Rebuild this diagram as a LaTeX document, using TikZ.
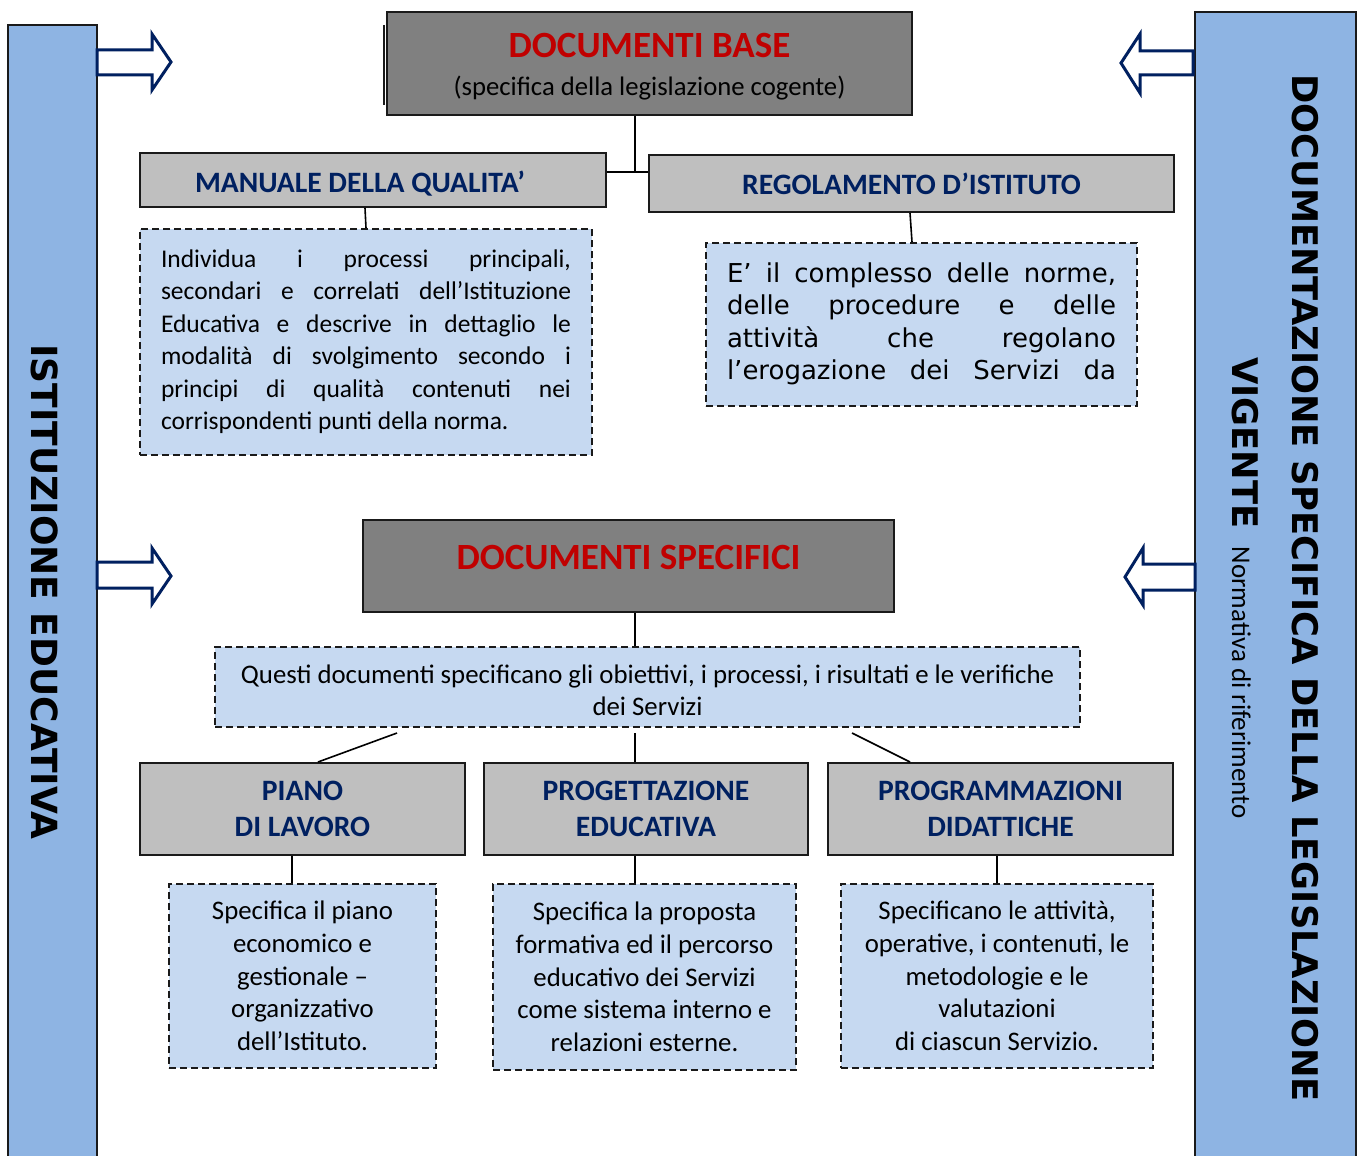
\documentclass[tikz,border=0pt]{standalone}
\usepackage{fontspec}
\setmainfont{Carlito}
\newfontfamily\verd{DejaVu Sans}
\definecolor{barblue}{HTML}{8EB4E3}
\definecolor{darkfill}{HTML}{808080}
\definecolor{lightfill}{HTML}{BFBFBF}
\definecolor{paleblue}{HTML}{C6D9F1}
\definecolor{titlered}{HTML}{C00000}
\definecolor{navy}{HTML}{002060}
\definecolor{edge}{HTML}{1A1A1A}
\tikzset{
  darkbox/.style={draw=edge, line width=2pt, fill=darkfill, inner sep=0pt},
  gbox/.style={draw=edge, line width=2pt, fill=lightfill, inner sep=0pt, text=navy, align=center,
    font=\bfseries\fontsize{29.6}{36}\selectfont},
  dbox/.style={draw=edge, line width=2pt, dash pattern=on 7pt off 4pt, fill=paleblue, inner sep=0pt},
  conn/.style={draw=black, line width=1.6pt},
  blockarrow/.style={draw=navy, line width=3pt, fill=white, line join=miter},
}
\begin{document}
\begin{tikzpicture}[x=1pt,y=-1pt]
\useasboundingbox[fill=white] (0,0) rectangle (1360,1156);

% side bars
\fill[barblue] (8,25) rectangle (97,1156);
\draw[edge, line width=2pt] (8,1156) -- (8,25) -- (97,25) -- (97,1156);
\fill[barblue] (1195,12) rectangle (1356,1156);
\draw[edge, line width=2pt] (1195,1156) -- (1195,12) -- (1356,12) -- (1356,1156);

\node[rotate=-90, font=\verd\bfseries\fontsize{36}{40}\selectfont] (left) at (45,592) {ISTITUZIONE EDUCATIVA};
\node[rotate=-90, align=center, font=\verd\bfseries\fontsize{35.3}{60}\selectfont] (right) at (1275,588)
  {DOCUMENTAZIONE SPECIFICA DELLA LEGISLAZIONE\\VIGENTE {\normalfont\rmfamily\fontsize{27}{27}\selectfont\ Normativa di riferimento}};

% block arrows
\draw[blockarrow] (97,50) -- (152,50) -- (152,34) -- (171,62) -- (152,90) -- (152,75) -- (97,75) -- cycle;
\draw[blockarrow] (97,562) -- (152,562) -- (152,548) -- (171,576) -- (152,604) -- (152,588) -- (97,588) -- cycle;
\draw[blockarrow] (1193,51) -- (1140,51) -- (1140,34) -- (1121,63) -- (1140,93) -- (1140,75) -- (1193,75) -- cycle;
\draw[blockarrow] (1195,564) -- (1143,564) -- (1143,548) -- (1125,577) -- (1143,605) -- (1143,590) -- (1195,590) -- cycle;

% documenti base
\draw[edge, line width=1.5pt] (384,25) -- (384,105);
\node[darkbox, minimum width=525, minimum height=103, font=\fontsize{26.7}{38}\selectfont] (base) at (649.5,63.5)
  {\raisebox{0pt}[\dimexpr\height+10pt\relax][\depth]{\begin{tabular}{@{}c@{}}
   {\color{titlered}\bfseries\fontsize{37}{38}\selectfont DOCUMENTI BASE}\\
   (specifica della legislazione cogente)\end{tabular}}};

\node[gbox, minimum width=466, minimum height=54] (man) at (373,180)
  {\raisebox{0pt}[\dimexpr\height+8pt\relax][\depth]{\hspace*{-26pt}MANUALE DELLA QUALITA’}};
\node[gbox, minimum width=525, minimum height=57] (reg) at (911.5,183.5) {REGOLAMENTO D’ISTITUTO};
\coordinate (j) at (635,172);
\draw[conn] (j |- base.south) -- (j);
\draw[conn] (man.east |- j) -- (reg.west |- j);

\node[dbox, minimum width=452, minimum height=226, font=\fontsize{25.5}{32.5}\selectfont] (mand) at (366,342)
  {\begin{tabular}{@{}l@{}}
   \makebox[410pt][s]{Individua i processi principali,}\\
   \makebox[410pt][s]{secondari e correlati dell’Istituzione}\\
   \makebox[410pt][s]{Educativa e descrive in dettaglio le}\\
   \makebox[410pt][s]{modalità di svolgimento secondo i}\\
   \makebox[410pt][s]{principi di qualità contenuti nei}\\
   corrispondenti punti della norma.
   \end{tabular}};
\node[dbox, minimum width=431, minimum height=163, font=\verd\fontsize{26}{32.5}\selectfont] (regd) at (921.5,324.5)
  {\begin{tabular}{@{}l@{}}
   \makebox[389pt][s]{E’ il complesso delle norme,}\\
   \makebox[389pt][s]{delle procedure e delle}\\
   \makebox[389pt][s]{attività che regolano}\\
   \makebox[389pt][s]{l’erogazione dei Servizi da}
   \end{tabular}};
\draw[conn] ([xshift=-8pt]man.south) -- ([xshift=0pt]mand.north);
\draw[conn] ([xshift=-1.5pt]reg.south) -- ([xshift=-9.5pt]regd.north);

% documenti specifici
\node[darkbox, minimum width=531, minimum height=92] (spec) at (628.5,566)
  {\raisebox{0pt}[\height][\dimexpr\depth+18pt\relax]{\color{titlered}\bfseries\fontsize{37}{38}\selectfont DOCUMENTI SPECIFICI}};
\node[dbox, minimum width=865, minimum height=80, font=\fontsize{26.8}{32}\selectfont] (q) at (647.5,687)
  {\raisebox{0pt}[\dimexpr\height+12pt\relax][\depth]{\begin{tabular}{@{}c@{}}Questi documenti specificano gli obiettivi, i processi, i risultati e le verifiche\\dei Servizi\end{tabular}}};
\draw[conn] ([xshift=6.5pt]spec.south) -- ([xshift=-12.5pt]q.north);

\node[gbox, minimum width=325, minimum height=92] (piano) at (302.5,809) {PIANO\\DI LAVORO};
\node[gbox, minimum width=324, minimum height=92] (prog) at (646,809) {PROGETTAZIONE\\EDUCATIVA};
\node[gbox, minimum width=345, minimum height=92] (progr) at (1000.5,809) {PROGRAMMAZIONI\\DIDATTICHE};

\draw[conn] ([shift={(-250.5pt,-5pt)}]q.south) -- ([xshift=15.5pt]piano.north);
\draw[conn] ([shift={(-12.5pt,-5pt)}]q.south) -- ([xshift=-11pt]prog.north);
\draw[conn] ([shift={(204.5pt,-5pt)}]q.south) -- ([xshift=-90.5pt]progr.north);

\tikzset{descfont/.style={align=center, font=\fontsize{26.8}{32.7}\selectfont}}
\node[dbox, descfont, minimum width=267, minimum height=184] (pd) at (302.5,976)
  {Specifica il piano\\economico e\\gestionale –\\organizzativo\\dell’Istituto.};
\node[dbox, descfont, minimum width=303, minimum height=186] (prd) at (644.5,977)
  {Specifica la proposta\\formativa ed il percorso\\educativo dei Servizi\\come sistema interno e\\relazioni esterne.};
\node[dbox, descfont, minimum width=312, minimum height=184] (prgd) at (997,976)
  {Specificano le attività,\\operative, i contenuti, le\\metodologie e le\\valutazioni\\di ciascun Servizio.};

\draw[conn] ([xshift=-10.5pt]piano.south) -- ([xshift=-10.5pt]pd.north);
\draw[conn] ([xshift=-11pt]prog.south) -- ([xshift=-9.5pt]prd.north);
\draw[conn] ([xshift=-3.5pt]progr.south) -- (prgd.north);
\end{tikzpicture}
\end{document}
